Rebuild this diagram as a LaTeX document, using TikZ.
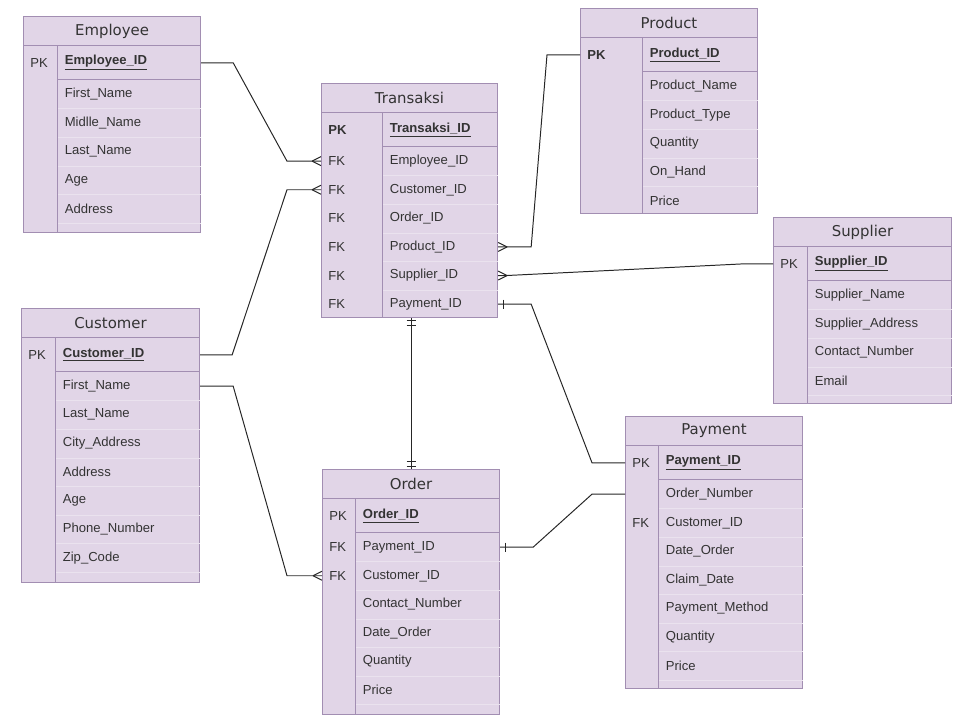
\documentclass[tikz,border=0pt]{standalone}
\usepackage{fontspec}
\setmainfont{Liberation Sans}
\newfontfamily\titlefont{DejaVu Sans}
\usetikzlibrary{positioning,calc}
\definecolor{erfill}{HTML}{E1D5E7}
\definecolor{erdraw}{HTML}{A28EB2}
\definecolor{errow}{HTML}{EAE2EE}
\definecolor{ertext}{HTML}{333333}

\begin{document}
\begin{tikzpicture}[x=0.025cm, y=-0.025cm]
    \tikzstyle{line} = [draw=black!85, line width=0.7pt]
    \tikzstyle{table} = [rectangle, draw=erdraw, fill=erfill, line width=0.7pt,
        inner sep=0pt]
    \tikzstyle{title} = [table, minimum height=0.725cm, text=ertext,
        font=\titlefont\fontsize{10.6}{12}\selectfont]
    \tikzstyle{cell} = [rectangle, inner xsep=0.175cm, inner ysep=0pt,
        minimum height=0.715cm, align=left, text=ertext,
        font=\fontsize{9.3}{11}\selectfont]
    \tikzstyle{pkcell} = [cell, minimum height=0.825cm]
    \tikzstyle{sep} = [draw=erdraw, line width=0.7pt]
    \tikzstyle{rowsep} = [draw=errow, line width=0.6pt]
    \tikzset{
        crowleft/.pic={\draw[line] (-9,0) -- (0,-4.5) (-9,0) -- (0,4.5);},
        crowright/.pic={\draw[line] (9,0) -- (0,-4.5) (9,0) -- (0,4.5);},
        onebar/.pic={\draw[line] (5,-4.5) -- (5,4.5);},
        twodown/.pic={\draw[line] (-4.5,2.5) -- (4.5,2.5) (-4.5,7) -- (4.5,7);},
        twoup/.pic={\draw[line] (-4.5,-3) -- (4.5,-3) (-4.5,-7.5) -- (4.5,-7.5);}
    }

    \useasboundingbox (0,0) rectangle (955,718);

    % Employee
    \node(employee) [table, minimum width=4.425cm, minimum height=5.4cm]
        at (23,16) [anchor=north west] {};
    \node(employee-title) [title, minimum width=4.425cm]
        at (employee.north) [anchor=north] {Employee};
    \node(employee-pkkey) [pkcell, text width=0.5cm]
        at (employee-title.south west) [anchor=north west] {PK};
    \node(employee-pk) [pkcell, text width=3.225cm, right=0pt of employee-pkkey]
        {\underline{\textbf{Employee\_ID}}};
    \foreach \k/\f [count=\i] in {/First\_Name, /Midlle\_Name, /Last\_Name,
        /Age, /Address} {
        \node(employee-\i) [cell, text width=3.225cm]
            at ($(employee-pk.south west)+(0,{(\i-1)*28.6})$) [anchor=north west] {\f};
        \node(employee-k\i) [cell, text width=0.5cm, left=0pt of employee-\i] {\k};
        \draw[rowsep] (employee-\i.south west) -- (employee-\i.south east);
    }
    \draw[sep] (employee-pk.south west) -- (employee-pk.south east);
    \draw[sep] (employee-pkkey.north east) -- (employee-pkkey.north east |- employee.south);

    % Transaksi
    \node(transaksi) [table, minimum width=4.4cm, minimum height=5.85cm]
        at (321,83) [anchor=north west] {};
    \node(transaksi-title) [title, minimum width=4.4cm]
        at (transaksi.north) [anchor=north] {Transaksi};
    \node(transaksi-pkkey) [pkcell, text width=1.175cm]
        at (transaksi-title.south west) [anchor=north west] {\textbf{PK}};
    \node(transaksi-pk) [pkcell, text width=2.525cm, right=0pt of transaksi-pkkey]
        {\underline{\textbf{Transaksi\_ID}}};
    \foreach \k/\f [count=\i] in {FK/Employee\_ID, FK/Customer\_ID, FK/Order\_ID,
        FK/Product\_ID, FK/Supplier\_ID, FK/Payment\_ID} {
        \node(transaksi-\i) [cell, text width=2.525cm]
            at ($(transaksi-pk.south west)+(0,{(\i-1)*28.6})$) [anchor=north west] {\f};
        \node(transaksi-k\i) [cell, text width=1.175cm, left=0pt of transaksi-\i] {\k};
    }
    \foreach \i in {1,...,5}
        \draw[rowsep] (transaksi-\i.south west) -- (transaksi-\i.south east);
    \draw[sep] (transaksi-pk.south west) -- (transaksi-pk.south east);
    \draw[sep] (transaksi-pkkey.north east) -- (transaksi-pkkey.north east |- transaksi.south);

    % Product
    \node(product) [table, minimum width=4.425cm, minimum height=5.125cm]
        at (580,8) [anchor=north west] {};
    \node(product-title) [title, minimum width=4.425cm]
        at (product.north) [anchor=north] {Product};
    \node(product-pkkey) [pkcell, text width=1.2cm]
        at (product-title.south west) [anchor=north west] {\textbf{PK}};
    \node(product-pk) [pkcell, text width=2.525cm, right=0pt of product-pkkey]
        {\underline{\textbf{Product\_ID}}};
    \foreach \k/\f [count=\i] in {/Product\_Name, /Product\_Type, /Quantity,
        /On\_Hand, /Price} {
        \node(product-\i) [cell, text width=2.525cm]
            at ($(product-pk.south west)+(0,{(\i-1)*28.6})$) [anchor=north west] {\f};
        \node(product-k\i) [cell, text width=1.2cm, left=0pt of product-\i] {\k};
    }
    \foreach \i in {1,...,4}
        \draw[rowsep] (product-\i.south west) -- (product-\i.south east);
    \draw[sep] (product-pk.south west) -- (product-pk.south east);
    \draw[sep] (product-pkkey.north east) -- (product-pkkey.north east |- product.south);

    % Supplier
    \node(supplier) [table, minimum width=4.45cm, minimum height=4.65cm]
        at (773,217) [anchor=north west] {};
    \node(supplier-title) [title, minimum width=4.45cm]
        at (supplier.north) [anchor=north] {Supplier};
    \node(supplier-pkkey) [pkcell, text width=0.5cm]
        at (supplier-title.south west) [anchor=north west] {PK};
    \node(supplier-pk) [pkcell, text width=3.25cm, right=0pt of supplier-pkkey]
        {\underline{\textbf{Supplier\_ID}}};
    \foreach \k/\f [count=\i] in {/Supplier\_Name, /Supplier\_Address,
        /Contact\_Number, /Email} {
        \node(supplier-\i) [cell, text width=3.25cm]
            at ($(supplier-pk.south west)+(0,{(\i-1)*28.6})$) [anchor=north west] {\f};
        \node(supplier-k\i) [cell, text width=0.5cm, left=0pt of supplier-\i] {\k};
        \draw[rowsep] (supplier-\i.south west) -- (supplier-\i.south east);
    }
    \draw[sep] (supplier-pk.south west) -- (supplier-pk.south east);
    \draw[sep] (supplier-pkkey.north east) -- (supplier-pkkey.north east |- supplier.south);

    % Customer
    \node(customer) [table, minimum width=4.45cm, minimum height=6.85cm]
        at (21,308) [anchor=north west] {};
    \node(customer-title) [title, minimum width=4.45cm]
        at (customer.north) [anchor=north] {Customer};
    \node(customer-pkkey) [pkcell, text width=0.5cm]
        at (customer-title.south west) [anchor=north west] {PK};
    \node(customer-pk) [pkcell, text width=3.25cm, right=0pt of customer-pkkey]
        {\underline{\textbf{Customer\_ID}}};
    \foreach \k/\f [count=\i] in {/First\_Name, /Last\_Name, /City\_Address,
        /Address, /Age, /Phone\_Number, /Zip\_Code} {
        \node(customer-\i) [cell, text width=3.25cm]
            at ($(customer-pk.south west)+(0,{(\i-1)*28.6})$) [anchor=north west] {\f};
        \node(customer-k\i) [cell, text width=0.5cm, left=0pt of customer-\i] {\k};
        \draw[rowsep] (customer-\i.south west) -- (customer-\i.south east);
    }
    \draw[sep] (customer-pk.south west) -- (customer-pk.south east);
    \draw[sep] (customer-pkkey.north east) -- (customer-pkkey.north east |- customer.south);

    % Order
    \node(order) [table, minimum width=4.425cm, minimum height=6.125cm]
        at (322,469) [anchor=north west] {};
    \node(order-title) [title, minimum width=4.425cm]
        at (order.north) [anchor=north] {Order};
    \node(order-pkkey) [pkcell, text width=0.475cm]
        at (order-title.south west) [anchor=north west] {PK};
    \node(order-pk) [pkcell, text width=3.25cm, right=0pt of order-pkkey]
        {\underline{\textbf{Order\_ID}}};
    \foreach \k/\f [count=\i] in {FK/Payment\_ID, FK/Customer\_ID,
        /Contact\_Number, /Date\_Order, /Quantity, /Price} {
        \node(order-\i) [cell, text width=3.25cm]
            at ($(order-pk.south west)+(0,{(\i-1)*28.6})$) [anchor=north west] {\f};
        \node(order-k\i) [cell, text width=0.475cm, left=0pt of order-\i] {\k};
        \draw[rowsep] (order-\i.south west) -- (order-\i.south east);
    }
    \draw[sep] (order-pk.south west) -- (order-pk.south east);
    \draw[sep] (order-pkkey.north east) -- (order-pkkey.north east |- order.south);

    % Payment
    \node(payment) [table, minimum width=4.425cm, minimum height=6.8cm]
        at (625,416) [anchor=north west] {};
    \node(payment-title) [title, minimum width=4.425cm]
        at (payment.north) [anchor=north] {Payment};
    \node(payment-pkkey) [pkcell, text width=0.475cm]
        at (payment-title.south west) [anchor=north west] {PK};
    \node(payment-pk) [pkcell, text width=3.25cm, right=0pt of payment-pkkey]
        {\underline{\textbf{Payment\_ID}}};
    \foreach \k/\f [count=\i] in {/Order\_Number, FK/Customer\_ID, /Date\_Order,
        /Claim\_Date, /Payment\_Method, /Quantity, /Price} {
        \node(payment-\i) [cell, text width=3.25cm]
            at ($(payment-pk.south west)+(0,{(\i-1)*28.6})$) [anchor=north west] {\f};
        \node(payment-k\i) [cell, text width=0.475cm, left=0pt of payment-\i] {\k};
        \draw[rowsep] (payment-\i.south west) -- (payment-\i.south east);
    }
    \draw[sep] (payment-pk.south west) -- (payment-pk.south east);
    \draw[sep] (payment-pkkey.north east) -- (payment-pkkey.north east |- payment.south);

    % relations
    \draw[line] (employee-pk.east) -- ++(32,0)
        -- ($(transaksi-k1.west)+(-34,0)$) -- (transaksi-k1.west);
    \draw[line] (customer-pk.east) -- ++(32,0)
        -- ($(transaksi-k2.west)+(-34,0)$) -- (transaksi-k2.west);
    \draw[line] (customer-1.east) -- ++(33,0)
        -- ($(order-k2.west)+(-35,0)$) -- (order-k2.west);
    \draw[line] (product-pkkey.west) -- ++(-33,0)
        -- ($(transaksi-4.east)+(33,0)$) -- (transaksi-4.east);
    \draw[line] (supplier-pkkey.west) -- ++(-28,0) -- ($(transaksi-5.east)+(8,0)$)
        -- (transaksi-5.east);
    \draw[line] (transaksi-6.east) -- ++(33,0)
        -- ($(payment-pkkey.west)+(-33,0)$) -- (payment-pkkey.west);
    \draw[line] (order-1.east) -- ++(33,0)
        -- ($(payment-k1.west)+(-33,0)$) -- (payment-k1.west);
    \draw[line] (order.north |- transaksi.south) -- (order.north);

    \path (transaksi-k1.west) pic {crowleft};
    \path (transaksi-k2.west) pic {crowleft};
    \path (order-k2.west) pic {crowleft};
    \path (transaksi-4.east) pic {crowright};
    \path (transaksi-5.east) pic {crowright};
    \path (transaksi-6.east) pic {onebar};
    \path (order-1.east) pic {onebar};
    \path (order.north |- transaksi.south) pic {twodown};
    \path (order.north) pic {twoup};
\end{tikzpicture}
\end{document}
